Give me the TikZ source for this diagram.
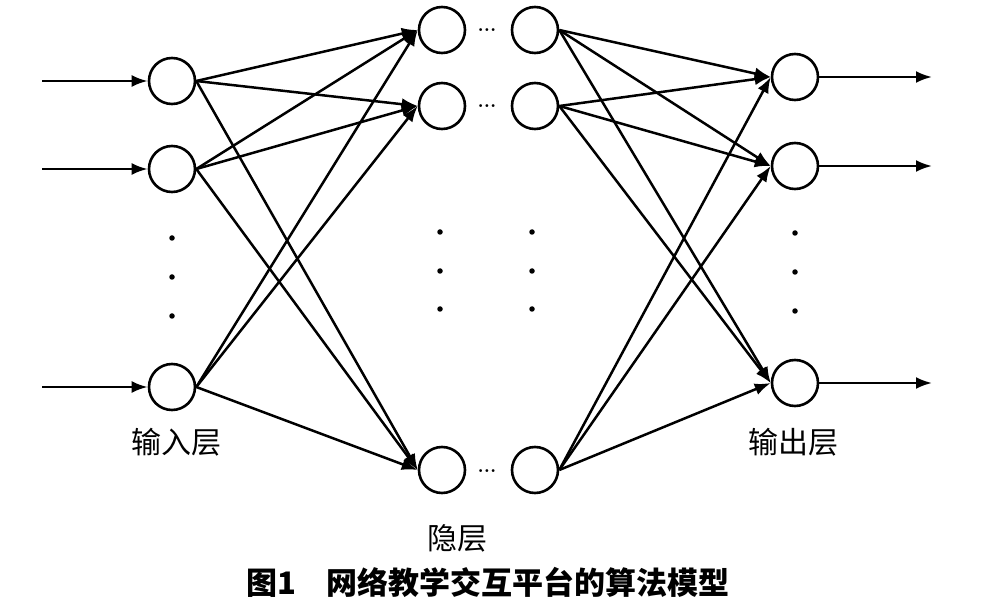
\documentclass[tikz,border=0pt]{standalone}
\usepackage{fontspec}
\newfontfamily\cjk{Noto Sans CJK SC}
\usetikzlibrary{arrows.meta}

\begin{document}
\begin{tikzpicture}[x=1pt,y=-1pt,line width=2.5pt,
		neuron/.style={draw,circle,minimum size=46pt,inner sep=0pt,line width=2.6pt},
		link/.style={-{Latex[length=16pt,width=12pt]}},
		dot/.style={fill,circle,inner sep=0pt,minimum size=5.5pt},
		hdots/.style={anchor=base,inner sep=0pt,font=\bfseries\fontsize{20}{20}\selectfont},
		layername/.style={font=\cjk\fontsize{30}{33}\selectfont}]
			\useasboundingbox (0,0) rectangle (996,601);
			
			\node[neuron] (in1) at (172,81) {};
			\node[neuron] (in2) at (172,169) {};
			\node[neuron] (in3) at (172,387) {};
			\node[neuron] (hl1) at (442,30) {};
			\node[neuron] (hl2) at (442,106) {};
			\node[neuron] (hl3) at (442,470) {};
			\node[neuron] (hr1) at (535,30) {};
			\node[neuron] (hr2) at (535,106) {};
			\node[neuron] (hr3) at (535,470) {};
			\node[neuron] (out1) at (795,77) {};
			\node[neuron] (out2) at (795,166) {};
			\node[neuron] (out3) at (795,383) {};
			
			\coordinate (src1) at (42,81);
			\coordinate (src2) at (42,169);
			\coordinate (src3) at (42,387);
			\coordinate (dst1) at (932,77);
			\coordinate (dst2) at (932,166);
			\coordinate (dst3) at (932,383);
			\draw[link] (src1) -- (in1);
			\draw[link] (src2) -- (in2);
			\draw[link] (src3) -- (in3);
			\draw[link] (out1) -- (dst1);
			\draw[link] (out2) -- (dst2);
			\draw[link] (out3) -- (dst3);
			
			\draw[link] (in1.east) -- (hl1.west);
			\draw[link] (in1.east) -- (hl2.west);
			\draw[link] (in1.east) -- (hl3.west);
			\draw[link] (in2.east) -- (hl1.west);
			\draw[link] (in2.east) -- (hl2.west);
			\draw[link] (in2.east) -- (hl3.west);
			\draw[link] (in3.east) -- (hl1.west);
			\draw[link] (in3.east) -- (hl2.west);
			\draw[link] (in3.east) -- (hl3.west);
			
			\draw[link] (hr1.east) -- (out1.west);
			\draw[link] (hr1.east) -- (out2.west);
			\draw[link] (hr1.east) -- (out3.west);
			\draw[link] (hr2.east) -- (out1.west);
			\draw[link] (hr2.east) -- (out2.west);
			\draw[link] (hr2.east) -- (out3.west);
			\draw[link] (hr3.east) -- (out1.west);
			\draw[link] (hr3.east) -- (out2.west);
			\draw[link] (hr3.east) -- (out3.west);
			
			\node[dot] (din1) at (172,238) {};
			\node[dot] (din2) at (172,277) {};
			\node[dot] (din3) at (172,316) {};
			\node[dot] (dhl1) at (440,232) {};
			\node[dot] (dhl2) at (440,271) {};
			\node[dot] (dhl3) at (440,309) {};
			\node[dot] (dhr1) at (532,232) {};
			\node[dot] (dhr2) at (532,271) {};
			\node[dot] (dhr3) at (532,309) {};
			\node[dot] (dout1) at (795,233) {};
			\node[dot] (dout2) at (795,272) {};
			\node[dot] (dout3) at (795,311) {};
			
			\node[hdots] (hd1) at (487,32) {...};
			\node[hdots] (hd2) at (487,108) {...};
			\node[hdots] (hd3) at (487,472) {...};
			
			\node[layername] (inname) at (176,442) {输入层};
			\node[layername] (outname) at (793,442) {输出层};
			\node[layername] (hidname) at (457,538) {隐层};
			\node[font=\cjk\bfseries\fontsize{31}{34}\selectfont] (caption) at (488,582) {图1\hspace{1em}网络教学交互平台的算法模型};
		\end{tikzpicture}
\end{document}
